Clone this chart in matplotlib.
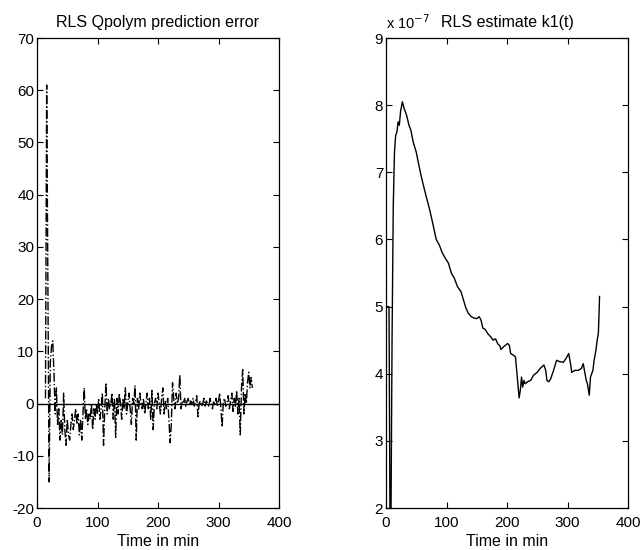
import numpy as np
import matplotlib
matplotlib.use("Agg")
import matplotlib.pyplot as plt

plt.rcParams['font.family'] = ['Liberation Sans', 'DejaVu Sans']
plt.rcParams['axes.unicode_minus'] = False

# prediction error, sampled every 2 min from t=14 to t=356
t_err = np.arange(14, 357, 2)
err = [
    1, 61, 22, -15, 8, 11, 12, 6, -2, 3,
    -4, -1, -7, -3, -6, 2, -5, -8, -3, -6,
    -7, -4, -2, -5, -3, -1, -4, -2, -6, -3,
    -7, -2, 3, -3, -1, -4, -2, -3, 0, -5,
    -1, -3, 0, -2, 1, -3, -1, 2, -8, -1,
    4, -2, 1, -1, 0, 2, -3, 1, -6.5, 1,
    -2, 2, 0, -3, 1, -1, 3, -2, 0, 2,
    -1, -4, 1, 0, 3.5, -7, 1, -1, 2, 0,
    -1, 1, -2, 0, 2, -1, 1, -3, 2.5, -5,
    0, 1, -1, 2, 0, -2, 1, 3, -2, 0.5,
    -1, 1, -3, -7.5, -4, 4, 1, -1, 2, 0,
    1, 5.5, -1, 0.5, 0, 1, -0.5, 0.5, 1, -0.5,
    0.5, 0, 1, -0.5, 0.5, 1.5, -2.5, 0, 0.5, -0.5,
    0, 1, -0.5, 0.5, 0, -0.5, 1, 0, -1, 0.5,
    0, 1, -0.5, 0.5, 2, -1, -4.5, 0.5, 1, -0.5,
    0, 1.5, -1, 0.5, 2, -1.5, 1, -0.5, 2.5, -2,
    1, -6, 3, 6.5, -2, 2, 0, 4, 6, 3,
    5, 3,
]

# RLS estimate of k1 (units of 1e-7)
t_k1 = [0, 5, 7, 8, 10, 12, 14, 16, 18, 20, 22, 24, 27, 30, 34, 38, 41, 45,
        50, 54, 58, 62, 67, 72, 77, 83, 88, 93, 98, 103, 108, 113, 118, 124,
        128, 132, 136, 141, 145, 150, 154, 157, 160, 164, 168, 173, 177, 181,
        185, 188, 190, 194, 197, 201, 204, 206, 210, 214, 217, 220, 222, 224,
        226, 228, 230, 234, 239, 244, 250, 255, 261, 264, 266, 269, 272, 277,
        282, 287, 293, 297, 302, 305, 307, 312, 318, 323, 326, 329, 331, 333,
        336, 338, 340, 342, 344, 347, 349, 351, 352, 353]
k1 = [5.0, 5.0, 1.0, 1.5, 4.5, 6.5, 7.3, 7.55, 7.6, 7.75, 7.7, 7.9, 8.05,
      7.95, 7.85, 7.7, 7.63, 7.45, 7.3, 7.12, 6.95, 6.8, 6.62, 6.45, 6.25,
      6.0, 5.92, 5.8, 5.72, 5.65, 5.5, 5.42, 5.3, 5.22, 5.1, 4.98, 4.9, 4.85,
      4.83, 4.82, 4.85, 4.8, 4.68, 4.66, 4.6, 4.55, 4.5, 4.52, 4.44, 4.42,
      4.36, 4.4, 4.42, 4.45, 4.42, 4.3, 4.28, 4.25, 3.95, 3.64, 3.75, 3.95,
      3.8, 3.9, 3.85, 3.88, 3.9, 3.98, 4.02, 4.08, 4.13, 4.05, 3.9, 3.88,
      3.92, 4.05, 4.2, 4.18, 4.17, 4.22, 4.3, 4.15, 4.02, 4.05, 4.05, 4.08,
      4.15, 4.0, 3.9, 3.85, 3.68, 3.95, 4.0, 4.05, 4.2, 4.35, 4.5, 4.6, 4.85,
      5.15]

x_ticks = [0, 100, 200, 300, 400]
err_ticks = list(range(-20, 71, 10))
k1_ticks = list(range(2, 10))


def matlab_axes(ax):
    ax.tick_params(axis='both', direction='in', top=True, right=True,
                   length=4, width=0.8, labelsize=11)
    ax.tick_params(axis='x', pad=6)
    ax.tick_params(axis='y', pad=2)
    for s in ax.spines.values():
        s.set_linewidth(0.9)


fig = plt.figure(figsize=(6.43, 5.5), dpi=100)

ax1 = fig.add_axes([37 / 643, 42 / 550, 242 / 643, 470 / 550])
ax1.plot(t_err, err, color='black', lw=1.0, ls='-.')
ax1.axhline(0, color='black', lw=1.0)
ax1.set_xlim(0, 400)
ax1.set_ylim(-20, 70)
ax1.set_xticks(x_ticks)
ax1.set_yticks(err_ticks)
matlab_axes(ax1)
ax1.set_title('RLS Qpolym prediction error', fontsize=11.5, pad=8)
ax1.set_xlabel('Time in min', fontsize=11.5, labelpad=3)

ax2 = fig.add_axes([386 / 643, 42 / 550, 242 / 643, 470 / 550])
ax2.plot(t_k1, k1, color='black', lw=1.0)
ax2.set_xlim(0, 400)
ax2.set_ylim(2, 9)
ax2.set_xticks(x_ticks)
ax2.set_yticks(k1_ticks)
matlab_axes(ax2)
ax2.set_title('RLS estimate k1(t)', fontsize=11.5, pad=8)
ax2.set_xlabel('Time in min', fontsize=11.5, labelpad=3)
ax2.text(0, 1.012, r'x 10$^{-7}$', transform=ax2.transAxes, fontsize=10.5,
         ha='left', va='bottom')

fig.savefig('out.png', dpi=100)
